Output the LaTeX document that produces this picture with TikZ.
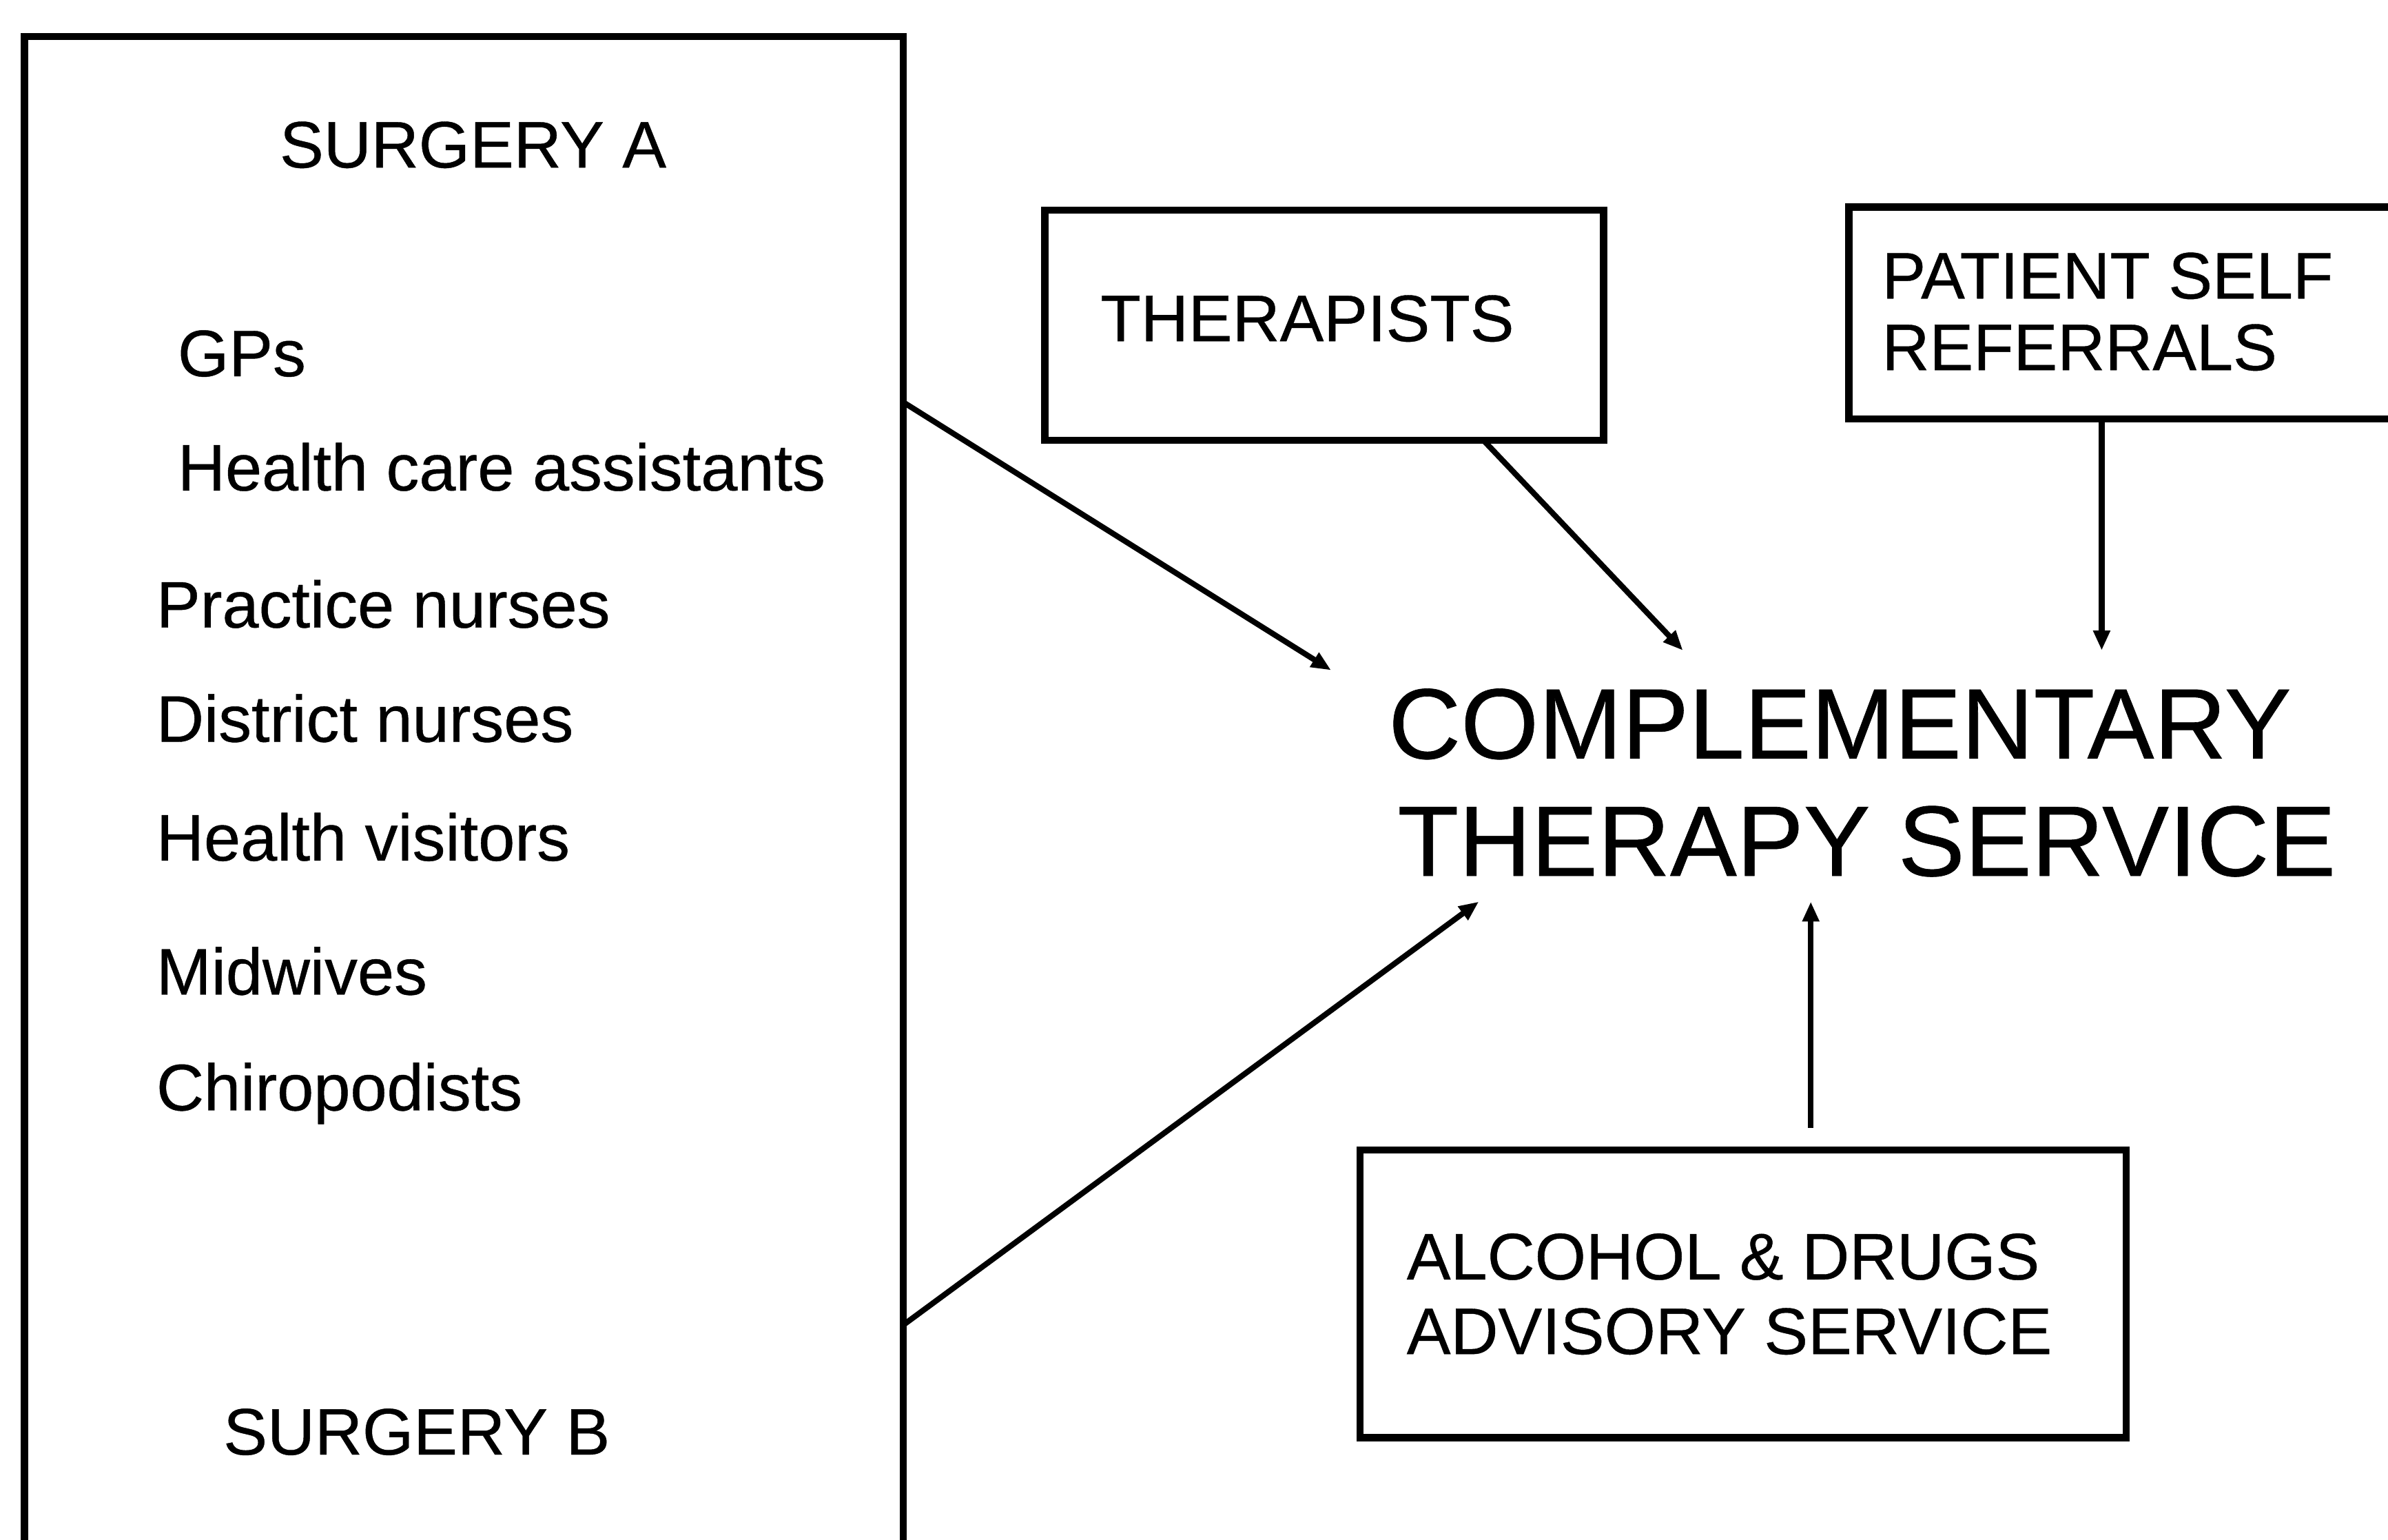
\documentclass[tikz,border=0pt]{standalone}
\usepackage{fontspec}
\setmainfont{Liberation Sans}[FakeBold=0.45]
\usetikzlibrary{arrows.meta,fit}
\begin{document}
\begin{tikzpicture}[x=0.1mm,y=-0.1mm,
  boxline/.style={draw=black, line width=1.35pt, inner sep=0pt},
  arr/.style={draw=black, line width=1.05pt, -{Triangle[length=1.3mm,width=1.05mm]}},
  lbl/.style={anchor=base west, inner sep=0pt, font=\fontsize{12.3}{13.6}\selectfont},
  big/.style={anchor=base west, inner sep=0pt, font=\fontsize{18.7}{21}\selectfont}]
\useasboundingbox (0,0) rectangle (1568,1011);

% surgery panel (open at the bottom of the page)
\node[boxline, fit={(16,24) (593,1060)}] (surg) {};
\node[lbl] (sa)  at (183,110) {SURGERY A};
\node[lbl] (gp)  at (116,247) {GPs};
\node[lbl] (hca) at (116,322) {Health care assistants};
\node[lbl] (pn)  at (102,412) {Practice nurses};
\node[lbl] (dn)  at (102,487) {District nurses};
\node[lbl] (hv)  at (102,565) {Health visitors};
\node[lbl] (mw)  at (102,653) {Midwives};
\node[lbl] (ch)  at (102,729) {Chiropodists};
\node[lbl] (sb)  at (146,955) {SURGERY B};

% referral sources
\node[boxline, fit={(686,138) (1053,289)}] (ther) {};
\node[lbl] (thert) at (722,224) {THERAPISTS};

\node[boxline, fit={(1214,136) (1590,275)}] (pat) {};
\node[lbl] (pat1) at (1235,196) {PATIENT SELF};
\node[lbl] (pat2) at (1235,243) {REFERRALS};

\node[boxline, fit={(893,755) (1396,944)}] (alc) {};
\node[lbl] (alc1) at (923,840) {ALCOHOL \& DRUGS};
\node[lbl] (alc2) at (923,889) {ADVISORY SERVICE};

% central service
\node[big] (cts1) at (911,498) {COMPLEMENTARY};
\node[big] (cts2) at (917,575) {THERAPY SERVICE};

% connector ends
\coordinate (a1) at (593,264);
\coordinate (a2) at (593,870);
\coordinate (a3) at (974,289);
\coordinate (t1) at (874,440);
\coordinate (t2) at (971,592);
\coordinate (t3) at (1105,427);
\coordinate (t4) at (1380,427);
\coordinate (t5) at (1189,592);

\draw[arr] (a1) -- (t1);
\draw[arr] (a2) -- (t2);
\draw[arr] (a3) -- (t3);
\draw[arr] (pat.south -| t4) -- (t4);
\draw[arr, shorten <=1.2mm] (alc.north -| t5) -- (t5);
\end{tikzpicture}
\end{document}
